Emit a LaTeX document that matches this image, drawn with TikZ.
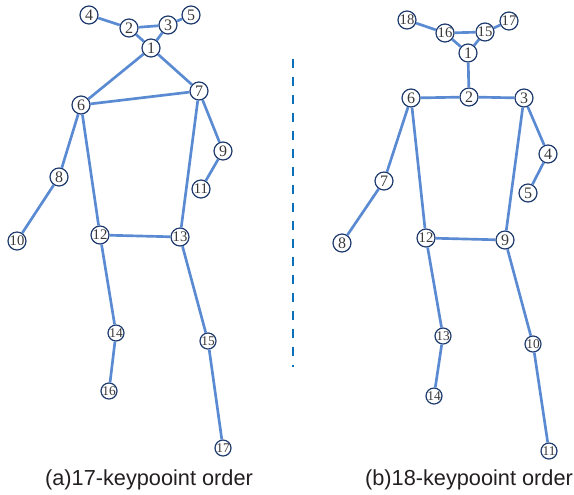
\documentclass[tikz,border=0pt]{standalone}
\usepackage{fontspec}
\setmainfont{Liberation Serif}
\newfontfamily\capfont{Liberation Sans}
\definecolor{edgeblue}{HTML}{5A8AD2}
\definecolor{nodeborder}{HTML}{1F3B6E}
\definecolor{numgray}{HTML}{3A3A3A}
\definecolor{dashblue}{HTML}{0A70B9}
\definecolor{captext}{HTML}{231F20}
\begin{document}
\begin{tikzpicture}[x=0.75pt,y=-0.75pt,
  kp/.style={circle,draw=nodeborder,line width=0.9pt,fill=white,inner sep=0pt,
    minimum size=13.5pt,text=numgray,font=\fontsize{12}{12}\selectfont},
  kpw/.style={kp,font=\fontsize{11}{11}\selectfont},
  kps/.style={kp,minimum size=12pt,font=\fontsize{10}{10}\selectfont},
  bone/.style={draw=edgeblue,line width=2pt},
  divider/.style={draw=dashblue,line width=2.2pt,dash pattern=on 6.75pt off 6.75pt},
  caption/.style={text=captext,font=\capfont\fontsize{16.3}{18}\selectfont}]
\useasboundingbox (0,0) rectangle (574,494);
% ---- (a) 17 keypoints ----
\node[kp]  (a1)  at (151,48)  {1};
\node[kp]  (a2)  at (129,28)  {2};
\node[kp]  (a3)  at (168,25)  {3};
\node[kp]  (a4)  at (89,15)   {4};
\node[kp]  (a5)  at (191,15)  {5};
\node[kp]  (a6)  at (81,105)  {6};
\node[kp]  (a7)  at (199,91)  {7};
\node[kp]  (a8)  at (59,177)  {8};
\node[kp]  (a9)  at (223,151) {9};
\node[kpw] (a10) at (17,241)  {10};
\node[kpw] (a11) at (201,189) {11};
\node[kpw] (a12) at (100,235) {12};
\node[kpw] (a13) at (180,237) {13};
\node[kps] (a14) at (116,333) {14};
\node[kps] (a15) at (208,341) {15};
\node[kps] (a16) at (109,391) {16};
\node[kps] (a17) at (223,448) {17};
\foreach \u/\v in {a4/a2,a2/a3,a3/a5,a2/a1,a3/a1,a1/a6,a1/a7,a6/a7,a6/a8,a8/a10,
  a6/a12,a7/a13,a7/a9,a9/a11,a12/a13,a12/a14,a14/a16,a13/a15,a15/a17}
  \draw[bone] (\u) -- (\v);
% ---- (b) 18 keypoints ----
\node[kp]  (b1)  at (468,53)  {1};
\node[kp]  (b2)  at (469,97)  {2};
\node[kp]  (b3)  at (524,98)  {3};
\node[kp]  (b4)  at (548,154) {4};
\node[kp]  (b5)  at (528,193) {5};
\node[kp]  (b6)  at (411,98)  {6};
\node[kp]  (b7)  at (384,181) {7};
\node[kp]  (b8)  at (342,243) {8};
\node[kp]  (b9)  at (505,240) {9};
\node[kps] (b10) at (533,344) {10};
\node[kps] (b11) at (549,451) {11};
\node[kpw] (b12) at (426,238) {12};
\node[kps] (b13) at (443,336) {13};
\node[kps] (b14) at (434,396) {14};
\node[kpw] (b15) at (485,32)  {15};
\node[kpw] (b16) at (445,33)  {16};
\node[kpw] (b17) at (509,21)  {17};
\node[kpw] (b18) at (407,20)  {18};
\foreach \u/\v in {b18/b16,b16/b15,b15/b17,b16/b1,b15/b1,b1/b2,b2/b6,b2/b3,b6/b7,b7/b8,
  b6/b12,b3/b9,b3/b4,b4/b5,b12/b9,b12/b13,b13/b14,b9/b10,b10/b11}
  \draw[bone] (\u) -- (\v);
% ---- divider ----
\coordinate (dtop) at (293,59);
\coordinate (dbot) at (293,367);
\draw[divider] (dtop) -- (dbot);
% ---- captions ----
\node[caption] (capa) at (149,480) {(a)17-keypooint order};
\node[caption] (capb) at (469,480) {(b)18-keypooint order};
\end{tikzpicture}
\end{document}
